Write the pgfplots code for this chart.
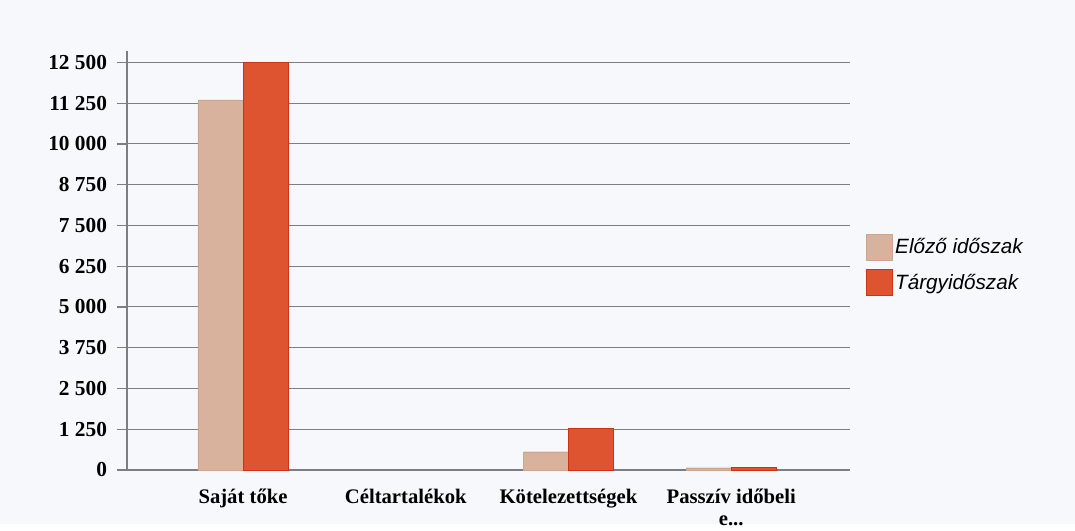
\documentclass[border=0pt]{standalone}
\usepackage{pgfplots}
\pgfplotsset{compat=1.18}
\usepackage{fontspec}
\setmainfont{Liberation Serif}
\newfontfamily\legfont{Liberation Sans}
\definecolor{bgc}{RGB}{246,248,252}
\definecolor{prevc}{RGB}{216,178,156}
\definecolor{prevd}{RGB}{205,165,140}
\definecolor{curc}{RGB}{223,84,48}
\definecolor{curd}{RGB}{205,50,25}
\definecolor{gridc}{RGB}{125,125,130}
\begin{document}
\begin{tikzpicture}
\fill[bgc] (0,0) rectangle (806.25pt,393pt);
\begin{axis}[
  at={(95.25pt,40.5pt)}, anchor=south west,
  scale only axis, width=542.25pt, height=314.25pt,
  xmin=-0.713, xmax=3.73, ymin=0, ymax=12850,
  axis y line=left, axis x line=bottom,
  axis line style={gridc, line width=0.9pt, -},
  scaled y ticks=false,
  ytick={0,1250,2500,3750,5000,6250,7500,8750,10000,11250,12500},
  yticklabels={0,1 250,2 500,3 750,5 000,6 250,7 500,8 750,10 000,11 250,12 500},
  xtick={0,1,2,3},
  xticklabels={Saját tőke,Céltartalékok,Kötelezettségek,{Passzív időbeli\\e.{}.{}.}},
  xtick style={draw=none},
  ytick style={gridc, line width=0.9pt},
  tick align=outside, major tick length=7.5pt,
  ymajorgrids, grid style={gridc, line width=0.8pt},
  yticklabel style={font=\bfseries\fontsize{16}{19}\selectfont, xshift=-4pt},
  xticklabel style={font=\bfseries\fontsize{15.5}{16.5}\selectfont, align=center, yshift=-3pt},
  ybar, bar width=0.277,
  legend style={at={(1.022,0.49)}, anchor=west, draw=none, fill=none,
    font=\legfont\itshape\fontsize{15.5}{18}\selectfont, row sep=7pt,
    inner sep=0pt, cells={anchor=west}},
  legend image code/.code={\fill[#1] (0pt,-9.75pt) rectangle (19.5pt,9.75pt);},
  clip=false,
]
\addplot[fill=prevc, draw=prevd, line width=0.3pt, bar shift=-0.1385] coordinates {(0,11350) (2,560) (3,70)};
\addlegendentry{Előző időszak}
\addplot[fill=curc, draw=curd, line width=0.3pt, bar shift=0.1385] coordinates {(0,12500) (2,1270) (3,75)};
\addlegendentry{Tárgyidőszak}
\end{axis}
\end{tikzpicture}
\end{document}
